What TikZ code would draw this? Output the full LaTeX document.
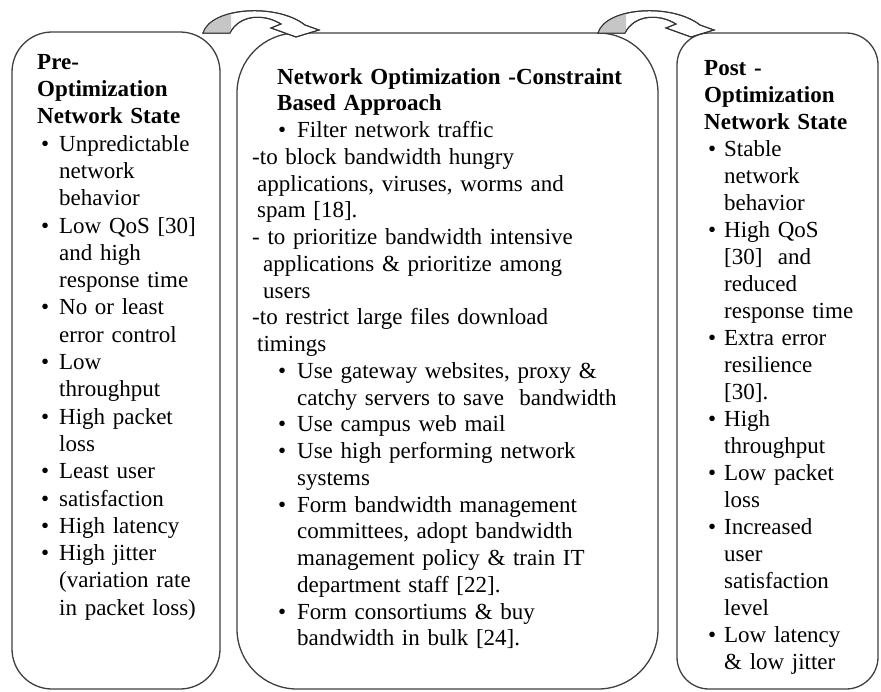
\documentclass[tikz,border=0pt]{standalone}
\usepackage{fontspec}
\setmainfont{Liberation Serif}
\usetikzlibrary{positioning}

\newcommand{\itm}[2]{\hspace*{#1pt}\makebox[#2pt][l]{\textbullet}}
\newcommand{\ind}[1]{\hspace*{#1pt}}
\newcommand{\bendpath}{(0,0) .. controls (8,-26) and (74,-30) .. (102,-8) -- (116,-3) -- (93,4) -- (68,-5) -- (78,-9) .. controls (60,-20) and (36,-18) .. (27,0) -- cycle}

\begin{document}
\begin{tikzpicture}[x=1pt,y=-1pt]
\tikzstyle{stage} = [rectangle, draw=black!75, line width=1.3pt, fill=white,
inner sep=0pt, outer sep=0pt]
\tikzstyle{stagetext} = [inner sep=0pt, align=left]
\tikzstyle{bentarrow} = [draw=black!80, line width=1pt, fill=white]

\fill[white] (0,0) rectangle (881,691);
\useasboundingbox (0,0) rectangle (881,691);

% boxes
\node [stage, rounded corners=40pt, minimum width=208pt, minimum height=657pt] (pre) at (116,360.5) {};
\node [stage, rounded corners=60pt, minimum width=421pt, minimum height=656pt] (opt) at (447.5,361) {};
\node [stage, rounded corners=32pt, minimum width=201pt, minimum height=656pt] (post) at (777.5,361) {};

% bent arrows on top
\foreach \from/\dx/\dy in {pre/-17/1, opt/-60/0}{
  \begin{scope}[shift={(\from.north east)}, shift={(\dx,\dy)}]
    \path [bentarrow] \bendpath;
    \begin{scope}
      \clip (-5,5) rectangle (28,-35);
      \fill [gray!45] \bendpath;
    \end{scope}
    \draw [draw=black!80, line width=1pt] \bendpath;
  \end{scope}
}

% texts
\node [stagetext, text width=180pt, font=\fontsize{23}{27.3}\selectfont,
below right=22pt and 25pt of pre.north west] (pretext) {%
\textbf{Pre-}\\
\textbf{Optimization}\\
\textbf{Network State}\\
\itm{4}{18}Unpredictable\\
\ind{22}network\\
\ind{22}behavior\\
\itm{4}{18}Low QoS [30]\\
\ind{22}and high\\
\ind{22}response time\\
\itm{4}{18}No or least\\
\ind{22}error control\\
\itm{4}{18}Low\\
\ind{22}throughput\\
\itm{4}{18}High packet\\
\ind{22}loss\\
\itm{4}{18}Least user\\
\itm{4}{18}satisfaction\\
\itm{4}{18}High latency\\
\itm{4}{18}High jitter\\
\ind{22}(variation rate\\
\ind{22}in packet loss)};

\node [stagetext, text width=400pt, font=\fontsize{23}{26.75}\selectfont,
below right=35pt and 15pt of opt.north west] (opttext) {%
\ind{25}\textbf{Network Optimization -Constraint}\\
\ind{25}\textbf{Based Approach}\\
\itm{26}{19}Filter network traffic\\
-to block bandwidth hungry\\
\ind{5}applications, viruses, worms and\\
\ind{5}spam [18].\\
- to prioritize bandwidth intensive\\
\ind{11}applications \& prioritize among\\
\ind{11}users\\
-to restrict large files download\\
\ind{5}timings\\
\itm{26}{19}Use gateway websites, proxy \&\\
\ind{45}catchy servers to save\ \ bandwidth\\
\itm{26}{19}Use campus web mail\\
\itm{26}{19}Use high performing network\\
\ind{45}systems\\
\itm{26}{19}Form bandwidth management\\
\ind{45}committees, adopt bandwidth\\
\ind{45}management policy \& train IT\\
\ind{45}department staff [22].\\
\itm{26}{19}Form consortiums \& buy\\
\ind{45}bandwidth in bulk [24].};

\node [stagetext, text width=172pt, font=\fontsize{23}{27}\selectfont,
below right=27pt and 27pt of post.north west] (posttext) {%
\textbf{Post -}\\
\textbf{Optimization}\\
\textbf{Network State}\\
\itm{4}{16}Stable\\
\ind{20}network\\
\ind{20}behavior\\
\itm{4}{16}High QoS\\
\ind{20}[30]\ \ and\\
\ind{20}reduced\\
\ind{20}response time\\
\itm{4}{16}Extra error\\
\ind{20}resilience\\
\ind{20}[30].\\
\itm{4}{16}High\\
\ind{20}throughput\\
\itm{4}{16}Low packet\\
\ind{20}loss\\
\itm{4}{16}Increased\\
\ind{20}user\\
\ind{20}satisfaction\\
\ind{20}level\\
\itm{4}{16}Low latency\\
\ind{20}\& low jitter};

\end{tikzpicture}
\end{document}
